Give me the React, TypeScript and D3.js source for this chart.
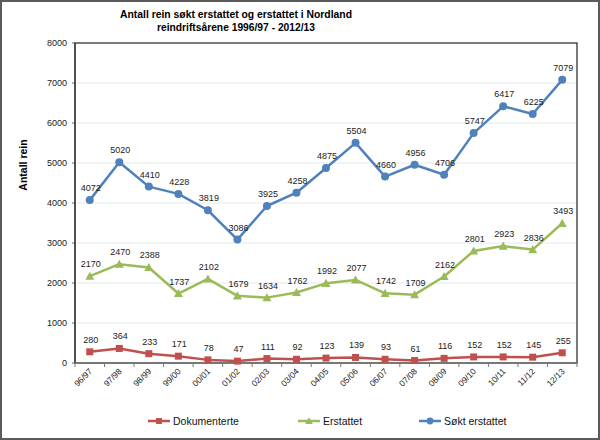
import React, { useEffect } from 'react';
import * as d3 from 'd3';

const seasons = ['96/97', '97/98', '98/99', '99/00', '00/01', '01/02', '02/03', '03/04', '04/05',
  '05/06', '06/07', '07/08', '08/09', '09/10', '10/11', '11/12', '12/13'];
const dokumenterte = [280, 364, 233, 171, 78, 47, 111, 92, 123, 139, 93, 61, 116, 152, 152, 145, 255];
const erstattet = [2170, 2470, 2388, 1737, 2102, 1679, 1634, 1762, 1992, 2077, 1742, 1709, 2162, 2801, 2923, 2836, 3493];
const soktErstattet = [4072, 5020, 4410, 4228, 3819, 3086, 3925, 4258, 4875, 5504, 4660, 4956, 4706, 5747, 6417, 6225, 7079];
const yTicks = [0, 1000, 2000, 3000, 4000, 5000, 6000, 7000, 8000];

const W = 600;
const H = 440;
const plot = { left: 75, right: 577, top: 43, bottom: 363 };
const font = 'Liberation Sans, Arial, sans-serif';

type Marker = 'square' | 'triangle' | 'circle';
const series: { name: string; values: number[]; color: string; marker: Marker; legendX: number }[] = [
  { name: 'Dokumenterte', values: dokumenterte, color: '#C0504D', marker: 'square', legendX: 148 },
  { name: 'Erstattet', values: erstattet, color: '#9BBB59', marker: 'triangle', legendX: 298 },
  { name: 'Søkt erstattet', values: soktErstattet, color: '#4F81BD', marker: 'circle', legendX: 419 },
];

const markerShape = (m: Marker, cx: number, cy: number, color: string, size = 1) => {
  if (m === 'square') {
    const s = 7 * size;
    return <rect x={cx - s / 2} y={cy - s / 2} width={s} height={s} fill={color} />;
  }
  if (m === 'triangle') {
    const s = 4.5 * size;
    return <path d={`M${cx},${cy - s} L${cx + s},${cy + s * 0.8} L${cx - s},${cy + s * 0.8} Z`} fill={color} />;
  }
  return <circle cx={cx} cy={cy} r={4 * size} fill={color} />;
};

export default function App() {
  useEffect(() => {
    document.body.style.margin = '0';
  }, []);

  const x = d3.scaleBand<string>().domain(seasons).range([plot.left, plot.right]);
  const y = d3.scaleLinear().domain([0, 8000]).range([plot.bottom, plot.top]);
  const cx = (i: number) => (x(seasons[i]) as number) + x.bandwidth() / 2;

  const line = d3.line<number>()
    .x((_, i) => cx(i))
    .y(d => y(d));

  return (
    <svg width={W} height={H} style={{ display: 'block', background: '#fff' }}>
      <rect x={1} y={1} width={W - 2} height={H - 2} fill="#fff" stroke="#5a5a5a" strokeWidth={2} />

      <text x={236} y={18} textAnchor="middle" fontFamily={font} fontWeight="bold" fontSize={10.8}
        textLength={232} lengthAdjust="spacingAndGlyphs">
        Antall rein søkt erstattet og erstattet  i Nordland
      </text>
      <text x={236} y={31} textAnchor="middle" fontFamily={font} fontWeight="bold" fontSize={10.8}
        textLength={158} lengthAdjust="spacingAndGlyphs">
        reindriftsårene 1996/97 - 2012/13
      </text>

      {yTicks.map(t => (
        <g key={t}>
          {t > 0 && t < 8000 && (
            <line x1={plot.left} x2={plot.right} y1={y(t)} y2={y(t)} stroke="#e3eaea" strokeWidth={1} />
          )}
          <line x1={plot.left - 3} x2={plot.left} y1={y(t)} y2={y(t)} stroke="#666" />
          <text x={plot.left - 8} y={y(t) + 3} textAnchor="end" fontFamily={font} fontSize={9} fill="#222">
            {t}
          </text>
        </g>
      ))}

      <rect x={plot.left} y={plot.top} width={plot.right - plot.left} height={plot.bottom - plot.top}
        fill="none" stroke="#222" strokeWidth={1.2} />
      <line x1={plot.left} x2={plot.left} y1={plot.top} y2={plot.bottom} stroke="#444" strokeWidth={1.5} />
      <line x1={plot.left} x2={plot.right} y1={plot.bottom} y2={plot.bottom} stroke="#777" strokeWidth={1.5} />

      {seasons.map((s, i) => (
        <g key={s}>
          <line x1={x(s) as number} x2={x(s) as number} y1={plot.bottom} y2={plot.bottom + 4} stroke="#777" />
          <text transform={`translate(${cx(i) + 3},${plot.bottom + 9}) rotate(-45)`} textAnchor="end"
            fontFamily={font} fontSize={8.5} fill="#222">
            {s}
          </text>
        </g>
      ))}
      <line x1={plot.right} x2={plot.right} y1={plot.bottom} y2={plot.bottom + 4} stroke="#777" />

      <text transform={`translate(27,${(plot.top + plot.bottom) / 2 - 38}) rotate(-90)`} textAnchor="middle"
        fontFamily={font} fontWeight="bold" fontSize={10.5}>
        Antall rein
      </text>

      {series.map(sr => (
        <g key={sr.name}>
          <path d={line(sr.values) as string} fill="none" stroke={sr.color} strokeWidth={2.5} strokeLinejoin="round" />
          {sr.values.map((v, i) => (
            <g key={i}>
              {markerShape(sr.marker, cx(i), y(v), sr.color)}
              <text x={cx(i) + 1} y={y(v) - 9} textAnchor="middle" fontFamily={font} fontSize={9} fill="#222">
                {v}
              </text>
            </g>
          ))}
        </g>
      ))}

      {series.map(sr => (
        <g key={sr.name}>
          <line x1={sr.legendX} x2={sr.legendX + 22} y1={421} y2={421} stroke={sr.color} strokeWidth={2.5} />
          {markerShape(sr.marker, sr.legendX + 11, 421, sr.color, 0.85)}
          <text x={sr.legendX + 25} y={425} fontFamily={font} fontSize={10.5} fill="#111">
            {sr.name}
          </text>
        </g>
      ))}
    </svg>
  );
}
